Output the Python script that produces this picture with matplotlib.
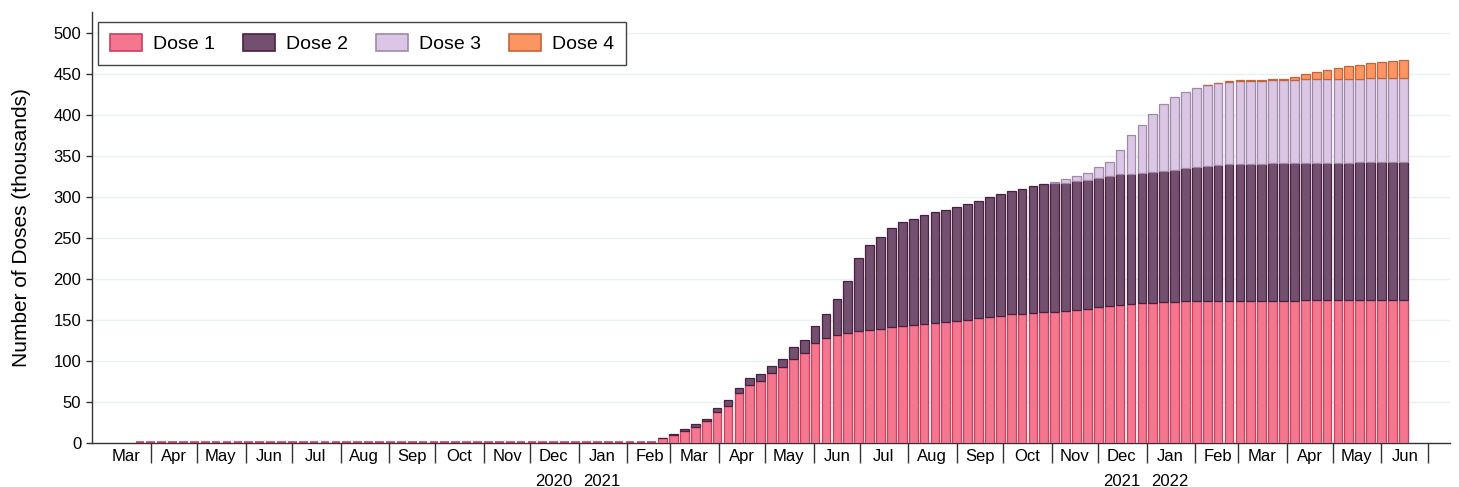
import numpy as np
import pandas as pd
import matplotlib
matplotlib.use('Agg')
import matplotlib.pyplot as plt
import matplotlib.dates as mdates
import matplotlib.transforms as mtransforms

plt.rcParams['font.family'] = ['Liberation Sans', 'DejaVu Sans']

# 1. Data (cumulative doses per week, thousands)
weeks = pd.date_range('2020-03-25', periods=117, freq='7D')

dose1 = [0] * 48 + [
    6.5, 10.5, 15.4, 20, 27, 38.5, 45.9, 61, 71.5, 76.4,
    85.4, 92.7, 102.8, 110.5, 122, 128.5, 132, 134.5, 137, 138.5,
    140, 141.5, 143, 144.3, 145.5, 146.7, 148, 149, 150.7, 152.4,
    154.4, 155.6, 157.3, 158, 158.9, 159.7, 160.5, 161.3, 162.5, 163.8,
    165.8, 167.4, 169, 169.9, 170.7, 171.5, 172.3, 172.7, 173.2, 173.5,
    173.5, 173.6, 173.7, 173.8, 173.9, 174, 174, 174.1, 174.1, 174.2,
    174.2, 174.3, 174.3, 174.3, 174.4, 174.4, 174.4, 174.4, 174.4]

dose2 = [0] * 48 + [
    0.3, 0.8, 2.4, 3.2, 3, 4.2, 6.9, 6.8, 7.7, 8.1,
    8.9, 10.5, 14.2, 15.5, 21, 29.2, 43.6, 63.8, 88.6, 103,
    112, 121.5, 127, 129.7, 132.5, 135, 137, 139.5, 141.3, 143.6,
    145.6, 148.4, 150.2, 152.5, 154.6, 156.5, 156.5, 156.6, 156.8, 156.9,
    157.2, 158.2, 159, 159.1, 159.2, 159.4, 160.2, 161, 162.1, 163.8,
    165.1, 165.8, 166.5, 166.8, 167.1, 167.2, 167.4, 167.5, 167.7, 167.8,
    167.9, 167.9, 168, 168.1, 168.1, 168.2, 168.3, 168.3, 168.4]

dose3 = [0] * 84 + [
    2, 4, 6.5, 8.9, 14, 17.9, 29.7, 47.2, 58.2, 70.7,
    81.7, 88.3, 93.6, 96.4, 98.4, 99.6, 100.1, 100.9, 100.9, 101,
    101.2, 101.4, 101.6, 101.9, 102, 102.1, 102.2, 102.3, 102.3, 102.4,
    102.4, 102.4, 102.5]

dose4 = [0] * 98 + [
    0.5, 0.8, 1, 1.1, 1.2, 1.3, 1.4, 1.5, 3.5, 6,
    8.5, 10.5, 13, 15, 17, 19, 20.3, 21.3, 22]

labels = ['Dose 1', 'Dose 2', 'Dose 3', 'Dose 4']
fills = ['#f4778f', '#735070', '#dbc6e6', '#fc9561']
edges = ['#c8405e', '#4a2040', '#9f8aa8', '#c4643a']

# 2. Make the plot
fig = plt.figure(figsize=(14.59, 4.87), dpi=100)
ax = fig.add_axes([0.0628, 0.0897, 0.931, 0.8857])

bottom = np.zeros(len(weeks))
for i, vals in enumerate([dose1, dose2, dose3, dose4]):
    vals = np.array(vals, dtype=float)
    if i == 0:
        lw = [0.9 if v > 0 else 2.6 for v in vals]
    else:
        lw = [0.9 if v > 0 else 0 for v in vals]
    ax.bar(weeks, vals, bottom=bottom, width=5.6, color=fills[i],
           edgecolor=edges[i], linewidth=lw, label=labels[i], zorder=3)
    bottom += vals

ax.set_ylim(0, 526)
ax.set_yticks(np.arange(0, 501, 50))
ax.grid(axis='y', color='#e8f1f3', linewidth=1, zorder=0)
ax.set_ylabel('Number of Doses (thousands)', fontsize=15, labelpad=16)

ax.set_xlim(pd.Timestamp('2020-02-23'), pd.Timestamp('2022-07-15'))
ax.set_xticks(pd.date_range('2020-04-01', '2022-07-01', freq='MS'))
ax.xaxis.set_major_formatter(plt.NullFormatter())
ax.xaxis.set_minor_locator(mdates.MonthLocator(bymonthday=16))
ax.xaxis.set_minor_formatter(mdates.DateFormatter('%b'))
ax.tick_params(axis='x', which='major', length=14.5, width=1, color='#333333')
ax.tick_params(axis='x', which='minor', length=0, pad=4, labelsize=12)
ax.tick_params(axis='y', length=4, width=1, color='#333333', labelsize=12)

for s in ['top', 'right']:
    ax.spines[s].set_visible(False)
for s in ['left', 'bottom']:
    ax.spines[s].set_color('#333333')
    ax.spines[s].set_linewidth(1)

# year labels under Dec / Jan
trans = mtransforms.blended_transform_factory(ax.transData, ax.transAxes)
for d, yr in [('2020-12-16', '2020'), ('2021-01-16', '2021'),
              ('2021-12-16', '2021'), ('2022-01-16', '2022')]:
    ax.annotate(yr, xy=(mdates.date2num(pd.Timestamp(d)), 0), xycoords=trans,
                xytext=(0, -22), textcoords='offset points',
                ha='center', va='top', fontsize=12)

leg = ax.legend(loc='upper left', bbox_to_anchor=(98 / 1459, 1 - 22 / 487),
                bbox_transform=fig.transFigure, ncol=4, fontsize=14,
                frameon=True, fancybox=False, framealpha=1,
                edgecolor='#444444', borderaxespad=0, handlelength=1.65,
                handleheight=1.0, handletextpad=0.6, columnspacing=1.4,
                borderpad=0.6)
leg.get_frame().set_linewidth(1)
for h in leg.legend_handles:
    h.set_linewidth(1.2)

# 3. Save
fig.savefig('out.png', dpi=100)
